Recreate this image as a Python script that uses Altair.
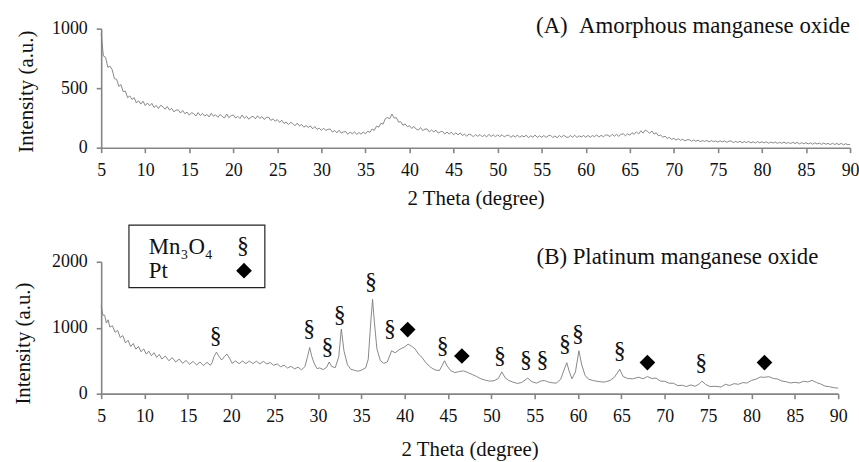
import altair as alt
import pandas as pd

# ---------------- data ----------------
# (A) amorphous manganese oxide, read every 0.25 degree from 5 to 90
top_y = [
    960, 770, 760, 675, 685, 655, 580, 575, 515, 530, 470, 475, 420, 435, 405, 420, 375, 394, 366, 391,
    354, 375, 352, 372, 338, 355, 329, 356, 344, 323, 346, 317, 330, 301, 316, 317, 291, 313, 285, 299,
    273, 294, 286, 266, 295, 270, 288, 265, 280, 258, 289, 264, 276, 255, 280, 261, 250, 283, 252, 269,
    274, 249, 264, 245, 274, 247, 264, 239, 256, 264, 242, 268, 246, 261, 238, 253, 257, 229, 242, 223,
    236, 212, 231, 203, 216, 194, 213, 203, 184, 206, 183, 195, 172, 186, 171, 183, 158, 178, 153, 164,
    145, 164, 144, 155, 156, 131, 145, 124, 147, 122, 132, 136, 112, 131, 116, 133, 111, 127, 113, 132,
    116, 138, 129, 157, 145, 181, 172, 205, 198, 244, 253, 244, 283, 249, 252, 215, 218, 188, 200, 176,
    184, 162, 178, 156, 148, 169, 144, 156, 157, 132, 149, 132, 147, 122, 134, 137, 115, 131, 115, 130,
    109, 124, 108, 124, 102, 114, 96, 114, 107, 92, 110, 95, 111, 92, 106, 90, 112, 94, 108, 92,
    108, 93, 109, 90, 102, 105, 87, 102, 90, 106, 87, 101, 91, 105, 84, 100, 88, 106, 86, 100,
    88, 102, 86, 100, 104, 86, 98, 84, 102, 88, 104, 90, 86, 102, 88, 104, 86, 100, 90, 102,
    88, 103, 87, 102, 92, 107, 89, 104, 92, 107, 104, 93, 112, 97, 112, 95, 112, 117, 100, 116,
    105, 125, 112, 133, 115, 142, 122, 148, 137, 121, 140, 114, 125, 100, 106, 88, 96, 78, 86, 70,
    78, 64, 76, 62, 71, 58, 66, 67, 54, 65, 54, 63, 51, 60, 52, 61, 49, 60, 50, 57,
    47, 58, 48, 57, 45, 54, 56, 43, 53, 44, 54, 41, 51, 43, 52, 40, 50, 39, 51, 41,
    50, 40, 50, 37, 47, 39, 48, 36, 45, 37, 47, 36, 44, 34, 45, 35, 44, 32, 42, 33,
    42, 32, 40, 29, 41, 31, 38, 28, 39, 29, 36, 26, 37, 27, 35, 26, 36, 24, 33, 25,
    28,
]
top_x = [5 + 0.25 * i for i in range(len(top_y))]

# (B) platinum manganese oxide
bot_x = [
    5.0, 5.2, 5.4, 5.6, 5.8, 6.0, 6.3, 6.6, 6.9, 7.2,
    7.5, 7.8, 8.1, 8.4, 8.7, 9.0, 9.3, 9.6, 9.9, 10.2,
    10.5, 10.8, 11.1, 11.4, 11.7, 12.0, 12.4, 12.8, 13.2, 13.6,
    14.0, 14.4, 14.8, 15.2, 15.6, 16.0, 16.4, 16.8, 17.2, 17.6,
    17.8, 18.0, 18.3, 18.6, 18.9, 19.2, 19.5, 19.8, 20.1, 20.5,
    20.9, 21.3, 21.7, 22.1, 22.5, 22.9, 23.3, 23.7, 24.1, 24.5,
    24.9, 25.3, 25.7, 26.1, 26.5, 26.9, 27.3, 27.7, 28.1, 28.5,
    28.8, 29.05, 29.3, 29.6, 29.9, 30.2, 30.6, 31.0, 31.3, 31.6,
    32.0, 32.4, 32.7, 33.0, 33.4, 33.8, 34.2, 34.6, 35.0, 35.5,
    35.8, 36.1, 36.3, 36.5, 36.8, 37.2, 37.6, 38.0, 38.5, 38.9,
    39.3, 39.7, 40.0, 40.4, 40.8, 41.2, 41.6, 42.0, 42.5, 43.0,
    43.5, 44.0, 44.3, 44.6, 44.9, 45.3, 45.8, 46.3, 46.8, 47.3,
    47.8, 48.3, 48.8, 49.3, 49.8, 50.3, 50.8, 51.2, 51.6, 52.0,
    52.5, 53.0, 53.5, 54.2, 54.7, 55.2, 55.7, 56.1, 56.5, 57.0,
    57.5, 58.0, 58.3, 58.7, 59.0, 59.3, 59.7, 60.1, 60.4, 60.8,
    61.2, 61.7, 62.3, 63.0, 63.7, 64.2, 64.8, 65.2, 65.7, 66.3,
    67.0, 67.5, 68.0, 68.5, 69.0, 69.5, 70.0, 70.5, 71.0, 71.5,
    72.0, 72.5, 73.0, 73.5, 74.0, 74.3, 74.7, 75.2, 75.8, 76.5,
    77.0, 77.5, 78.0, 78.5, 79.0, 79.5, 80.0, 80.5, 81.0, 81.5,
    82.0, 82.5, 83.0, 83.5, 84.0, 84.5, 85.0, 85.5, 86.0, 86.5,
    87.0, 87.5, 88.0, 88.5, 89.0, 89.5, 90.0,
]
bot_y = [
    1330, 1190, 1190, 1070, 1120, 1010, 1030, 930, 960, 850,
    880, 770, 810, 715, 760, 675, 715, 635, 680, 600,
    645, 575, 620, 550, 595, 525, 570, 500, 545, 480,
    525, 460, 505, 445, 490, 435, 480, 425, 475, 430,
    470, 560, 630, 560, 510, 560, 600, 540, 460, 495,
    455, 495, 455, 495, 455, 492, 452, 490, 450, 472,
    430, 452, 408, 432, 388, 415, 375, 402, 362, 410,
    560, 700, 560, 450, 380, 390, 365, 400, 480, 410,
    395, 560, 980, 650, 440, 370, 355, 340, 355, 390,
    520, 1100, 1430, 1100, 680, 500, 460, 480, 650, 620,
    660, 690, 710, 750, 720, 680, 600, 550, 460, 400,
    360, 350, 420, 500, 420, 350, 320, 335, 345, 320,
    290, 260, 225, 205, 190, 195, 230, 330, 240, 200,
    175, 155, 170, 235, 180, 160, 190, 200, 180, 165,
    160, 220, 330, 470, 330, 225, 330, 650, 450, 280,
    220, 200, 185, 175, 200, 250, 370, 260, 230, 225,
    250, 225, 260, 230, 235, 190, 188, 158, 158, 122,
    128, 108, 132, 112, 150, 190, 140, 108, 112, 102,
    142, 124, 152, 142, 168, 162, 202, 218, 252, 248,
    258, 232, 222, 192, 182, 162, 172, 162, 188, 178,
    202, 168, 146, 114, 106, 90, 85,
]

# Mn3O4 (§) and Pt (◆) peak markers
mn_x = [18.2, 29.0, 31.1, 32.5, 36.1, 38.3, 44.4, 51.0, 54.0, 55.9, 58.5, 60.0, 64.8, 74.2]
mn_y = [872, 977, 707, 1188, 1689, 972, 722, 571, 506, 506, 747, 897, 647, 471]
pt_x = [40.35, 46.6, 68.0, 81.5]
pt_y = [972, 571, 471, 471]

x_ticks = list(range(5, 91, 5))
top_y_ticks = [0, 500, 1000]
bot_y_ticks = [0, 1000, 2000]

# ---------------- style ----------------
FONT = "Liberation Serif"
AX = "#858585"
TXT = "#111111"
LINE = "#7a7a7a"

xscale = alt.Scale(domain=[5, 90], nice=False, zero=False)


def x_axis(title_y):
    return alt.Axis(values=x_ticks, title="2 Theta (degree)", labelFlush=False,
                    labelOverlap=False, titleY=title_y, titleBaseline="alphabetic")


def y_axis(vals, tx, ty):
    return alt.Axis(values=vals, format="d", title="Intensity (a.u.)", titleX=tx, titleY=ty,
                    titleBaseline="middle", titleAlign="center", labelOverlap=False)


# ---------------- top panel ----------------
top_df = pd.DataFrame({"theta": top_x, "intensity": top_y})
top_line = alt.Chart(top_df).mark_line(color=LINE, strokeWidth=0.9).encode(
    x=alt.X("theta:Q", scale=xscale, axis=x_axis(57)),
    y=alt.Y("intensity:Q", scale=alt.Scale(domain=[0, 1000], nice=False),
            axis=y_axis(top_y_ticks, -75, 63)),
)
top_label = alt.Chart(pd.DataFrame({"t": ["(A)\u00a0\u00a0Amorphous manganese oxide"]})).mark_text(
    align="right", baseline="alphabetic", font=FONT, fontSize=23, color=TXT
).encode(x=alt.value(755), y=alt.value(4), text="t:N")
top = alt.layer(top_line, top_label).properties(width=755, height=120)

# ---------------- bottom panel ----------------
yscale_b = alt.Scale(domain=[0, 2000], nice=False)
bot_df = pd.DataFrame({"theta": bot_x, "intensity": bot_y})
bot_line = alt.Chart(bot_df).mark_line(color=LINE, strokeWidth=0.9).encode(
    x=alt.X("theta:Q", scale=xscale, axis=x_axis(62)),
    y=alt.Y("intensity:Q", scale=yscale_b, axis=y_axis(bot_y_ticks, -78, 82)),
)
mn_df = pd.DataFrame({"theta": mn_x, "intensity": mn_y})
mn_marks = alt.Chart(mn_df).mark_text(
    text="§", font=FONT, fontSize=24, color=TXT, baseline="middle"
).encode(x=alt.X("theta:Q", scale=xscale), y=alt.Y("intensity:Q", scale=yscale_b))
pt_df = pd.DataFrame({"theta": pt_x, "intensity": pt_y})
pt_marks = alt.Chart(pt_df).mark_point(
    shape="diamond", filled=True, size=250, color="black", opacity=1
).encode(x=alt.X("theta:Q", scale=xscale), y=alt.Y("intensity:Q", scale=yscale_b))

bot_label = alt.Chart(pd.DataFrame({"t": ["(B) Platinum manganese oxide"]})).mark_text(
    align="right", baseline="alphabetic", font=FONT, fontSize=23, color=TXT
).encode(x=alt.value(723), y=alt.value(2), text="t:N")

one = pd.DataFrame({"k": [0]})
legend_box = alt.Chart(one).mark_rect(fill="white", stroke="#222222", strokeWidth=1.2).encode(
    x=alt.value(28), x2=alt.value(165), y=alt.value(-37), y2=alt.value(26)
)
leg_mn = alt.Chart(pd.DataFrame({"t": ["Mn\u2083O\u2084"]})).mark_text(
    align="left", baseline="alphabetic", font=FONT, fontSize=23, color=TXT
).encode(x=alt.value(48), y=alt.value(-8), text="t:N")
leg_pt = alt.Chart(pd.DataFrame({"t": ["Pt"]})).mark_text(
    align="left", baseline="alphabetic", font=FONT, fontSize=23, color=TXT
).encode(x=alt.value(48), y=alt.value(16), text="t:N")
leg_mn_sym = alt.Chart(one).mark_text(
    text="§", font=FONT, fontSize=24, color=TXT, baseline="middle"
).encode(x=alt.value(143), y=alt.value(-16))
leg_pt_sym = alt.Chart(one).mark_point(
    shape="diamond", filled=True, size=250, color="black", opacity=1
).encode(x=alt.value(144), y=alt.value(9))

bottom = alt.layer(
    bot_line, mn_marks, pt_marks, bot_label, legend_box, leg_mn, leg_pt, leg_mn_sym, leg_pt_sym
).properties(width=743, height=133)

chart = (
    alt.concat(top, bottom, columns=1, spacing=16, align="none")
    .properties(padding={"left": 12, "top": 13, "right": 0, "bottom": 0}, background="white")
    .configure_view(stroke=None)
    .configure_axis(
        labelFont=FONT, labelFontSize=18, labelColor=TXT, labelPadding=9,
        titleFont=FONT, titleFontSize=21, titleFontWeight="normal", titleColor=TXT,
        domainColor=AX, domainWidth=1.6, tickColor=AX, tickWidth=1.6, tickSize=5,
        grid=False,
    )
)

chart.save("out.html", embed_options={"renderer": "svg", "actions": False})
